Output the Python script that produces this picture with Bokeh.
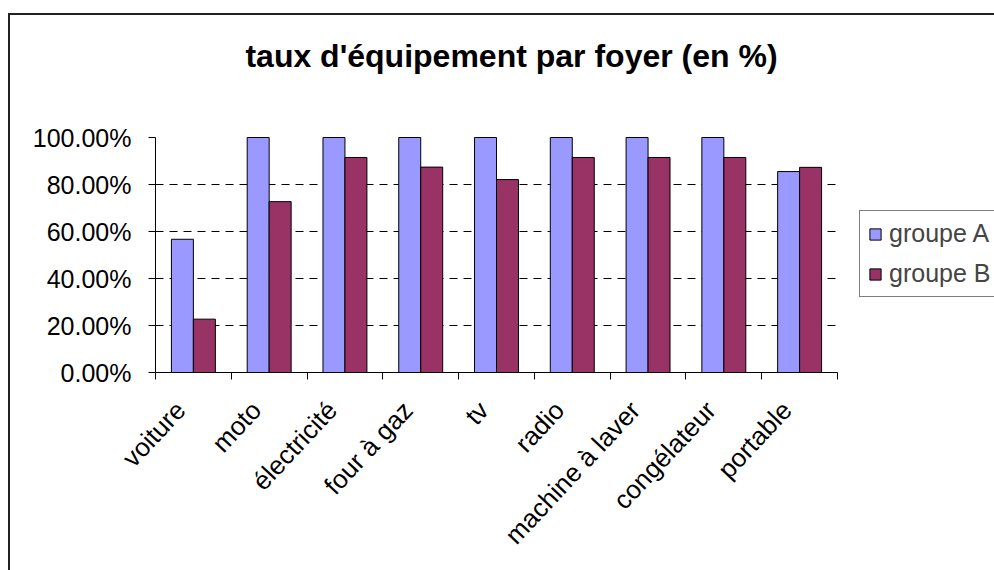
import math
from bokeh.plotting import figure
from bokeh.models import (Range1d, LinearAxis, FixedTicker, Label,
                          NumeralTickFormatter, Legend, LegendItem, ColumnDataSource)
from bokeh.transform import dodge
from bokeh.embed import file_html
from bokeh.resources import INLINE

categories = ["voiture", "moto", "électricité", "four à gaz", "tv", "radio",
              "machine à laver", "congélateur", "portable"]
groupe_a = [0.567, 1.0, 1.0, 1.0, 1.0, 1.0, 1.0, 1.0, 0.855]
groupe_b = [0.227, 0.727, 0.915, 0.874, 0.821, 0.915, 0.915, 0.915, 0.873]
series_names = ["groupe A", "groupe B"]
series_colors = ["#9999FF", "#993366"]
y_ticks = [0, 0.2, 0.4, 0.6, 0.8, 1.0]
grid_ticks = [0.2, 0.4, 0.6, 0.8]
title_text = "taux d'équipement par foyer (en %)"

FONT = "Liberation Sans"
W, H = 994, 570
# plot-area geometry in pixels (the frame is extended right/up so the legend and
# title can sit inside it; axes are bounded to the real plot area)
AX_L, AX_R, AX_T, AX_B = 155, 837, 137, 372
n = len(categories)
y_max = 1.0
x_end = n * (W - AX_L) / (AX_R - AX_L)
y_end = y_max * AX_B / (AX_B - AX_T)


def px_x(px):
    return (px - AX_L) / (AX_R - AX_L) * n


def px_y(py):
    return (AX_B - py) / (AX_B - AX_T) * y_max


centers = [i + 0.5 for i in range(n)]
label_pos = [c - 0.17 for c in centers]
src = ColumnDataSource(dict(pos=centers, a=groupe_a, b=groupe_b))
grid_src = ColumnDataSource(dict(y=grid_ticks, x0=[0] * len(grid_ticks), x1=[n] * len(grid_ticks)))

p = figure(width=W, height=H, x_range=Range1d(0, x_end), y_range=Range1d(0, y_end),
           output_backend="svg", toolbar_location=None, title_location=None,
           x_axis_location=None, y_axis_location=None,
           min_border_left=AX_L, min_border_right=0, min_border_top=0,
           min_border_bottom=H - AX_B)
p.outline_line_color = None
p.background_fill_alpha = 0
p.border_fill_alpha = 0
p.styles = {"background": "linear-gradient(#222222,#222222) 8px 13px / 2px 700px no-repeat, "
                          "linear-gradient(#222222,#222222) 8px 13px / 1100px 2px no-repeat, #ffffff"}
for g in p.grid:
    g.visible = False

# dashed horizontal grid lines over the plot area only
p.segment(x0="x0", x1="x1", y0="y", y1="y", source=grid_src, line_color="black",
          line_width=1, line_dash="8 6")

# y axis
yaxis = LinearAxis(ticker=FixedTicker(ticks=y_ticks), formatter=NumeralTickFormatter(format="0.00%"),
                   bounds=(0, y_max),
                   major_tick_in=0, major_tick_out=7, minor_tick_line_color=None,
                   major_label_standoff=17, major_label_text_font=FONT,
                   major_label_text_font_size="25px", major_label_text_color="black",
                   axis_line_color="black", major_tick_line_color="black")
p.add_layout(yaxis, "left")

# x tick axis (category boundaries)
xtick = LinearAxis(ticker=FixedTicker(ticks=list(range(n + 1))), bounds=(0, n),
                   major_tick_in=0, major_tick_out=7, minor_tick_line_color=None,
                   major_label_text_font_size="1px", major_label_text_alpha=0,
                   major_label_standoff=0, axis_line_color="black", major_tick_line_color="black")
p.add_layout(xtick, "below")

# x label axis (category names)
xcat = LinearAxis(ticker=FixedTicker(ticks=label_pos),
                  major_label_overrides={c: name for c, name in zip(label_pos, categories)},
                  major_tick_line_color=None, minor_tick_line_color=None, axis_line_color=None,
                  major_label_orientation=0.82, major_label_standoff=20,
                  major_label_text_font=FONT, major_label_text_font_size="26px",
                  major_label_text_color="black")
p.add_layout(xcat, "below")

# bars
ra = p.vbar(x=dodge("pos", -0.145), top="a", width=0.29, source=src,
            fill_color=series_colors[0], line_color="black", line_width=1)
rb = p.vbar(x=dodge("pos", 0.145), top="b", width=0.29, source=src,
            fill_color=series_colors[1], line_color="black", line_width=1)

# title
p.add_layout(Label(x=px_x(511), y=px_y(55), text=title_text, text_align="center",
                   text_baseline="alphabetic", text_font=FONT, text_font_size="32px",
                   text_font_style="bold", text_color="black"))

legend = Legend(items=[LegendItem(label=series_names[0], renderers=[ra]),
                       LegendItem(label=series_names[1], renderers=[rb])],
                location=(859 - AX_L, AX_B - 297), orientation="vertical",
                border_line_color="black", border_line_width=1,
                background_fill_color="white", background_fill_alpha=1,
                glyph_width=14, glyph_height=14, label_text_font=FONT,
                label_text_font_size="25px", label_standoff=7, padding=8,
                spacing=11, margin=0)
p.add_layout(legend)

open("out.html", "w").write(file_html(p, INLINE))
